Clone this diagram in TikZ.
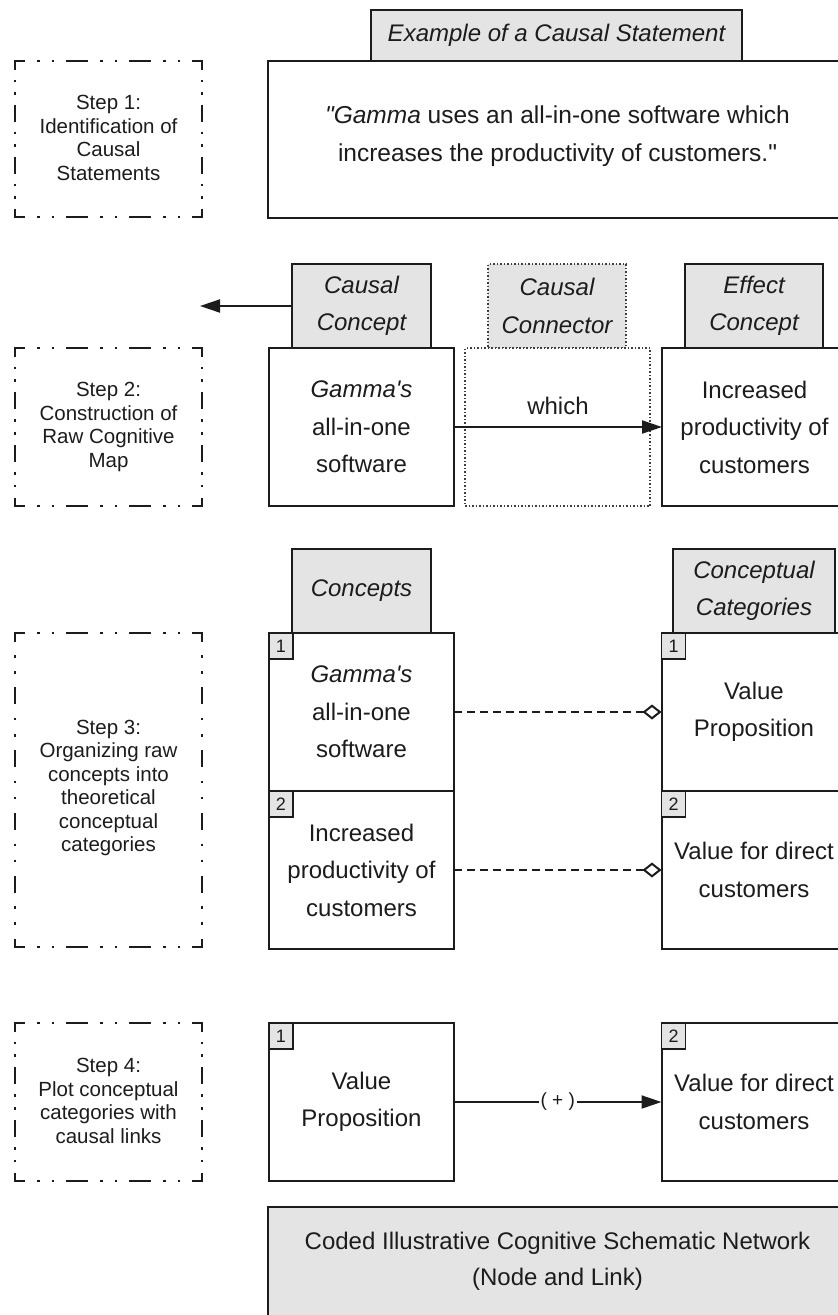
\documentclass[tikz,border=0pt]{standalone}
\usepackage{fontspec}
\newfontfamily\lsans{Liberation Sans}
\usetikzlibrary{arrows.meta}
\definecolor{tabgray}{RGB}{228,228,228}
\definecolor{ink}{RGB}{28,28,28}

\newcommand\dside[5]{% x1 y1 x2 y2 dashlength
  \pgfmathsetmacro\dsL{abs((#3)-(#1))+abs((#4)-(#2))}
  \pgfmathsetmacro\dsN{max(1,round(\dsL/60))}
  \pgfmathsetmacro\dsP{\dsL/\dsN}
  \pgfmathsetmacro\dsG{(\dsP-#5-5)/3}
  \pgfmathsetmacro\dsH{#5/2}
  \draw[stepline, dash pattern=on #5pt off \dsG pt on 2.5pt off \dsG pt on 2.5pt off \dsG pt, dash phase=\dsH pt] (#1,#2) -- (#3,#4);
}
\newcommand\stepframe[4]{% x1 y1 x2 y2
  \dside{#1-1}{#2}{#3+1}{#2}{22}
  \dside{#1-1}{#4}{#3+1}{#4}{22}
  \dside{#1}{#2}{#1}{#4}{17}
  \dside{#3}{#2}{#3}{#4}{17}
}

\tikzset{
  box/.style={draw=ink, line width=2pt, fill=white, align=center, inner sep=0pt,
    text=ink, minimum width=185pt, minimum height=158pt,
    font=\lsans\fontsize{24}{37.5}\selectfont},
  tabbox/.style={box, fill=tabgray, minimum width=139pt, minimum height=84pt,
    font=\lsans\itshape\fontsize{24}{37.5}\selectfont},
  dotbox/.style={line width=1.5pt, dash pattern=on 1.5pt off 2pt},
  tagbox/.style={draw=ink, line width=1.3pt, fill=tabgray, minimum width=24pt,
    minimum height=26pt, inner sep=0pt, anchor=north west, text=ink,
    font=\lsans\fontsize{18}{18}\selectfont},
  steptext/.style={align=center, text=ink, inner sep=0pt,
    font=\lsans\fontsize{20.5}{23.5}\selectfont},
  plaintext/.style={align=center, text=ink, inner sep=0pt,
    font=\lsans\fontsize{24}{36}\selectfont},
  stepline/.style={draw=ink, line width=2pt},
  link/.style={draw=ink, line width=2pt, -{Triangle[length=20pt,width=13pt]}},
  assoc/.style={draw=ink, line width=2pt, dash pattern=on 8pt off 5pt,
    -{Diamond[open,length=19pt,width=15pt]}},
}

\begin{document}
\begin{tikzpicture}[x=1pt,y=-1pt, every node/.style={outer sep=0pt}]
\useasboundingbox (0,0) rectangle (838,1315);
\clip (0,0) rectangle (838,1315);

% ---------- Step 1
\stepframe{15}{61}{202}{217}
\node[steptext] (s1) at (108.5,138) {Step 1:\\Identification of\\Causal\\Statements};
\node[tabbox, minimum width=371pt, minimum height=51pt] (extab) at (556.5,35.5) {Example of a Causal Statement};
\node[box, minimum width=579pt, minimum height=157pt] (stmt) at (557.5,139.5) {};
\node[plaintext, font=\lsans\fontsize{24.5}{37.5}\selectfont] (stmttext) at (557.5,136) {{\itshape "Gamma} uses an all-in-one software which\\increases the productivity of customers."};

% ---------- Step 2
\stepframe{15}{348}{202}{506}
\node[steptext] (s2) at (108.5,427) {Step 2:\\Construction of\\Raw Cognitive\\Map};
\node[tabbox] (cctab) at (361.5,306) {Causal\\Concept};
\node[tabbox, draw=ink!85, dotbox, minimum width=138pt] (cntab) at (557,306) {Causal\\Connector};
\node[tabbox, minimum width=138pt] (eftab) at (754,306) {Effect\\Concept};
\node[box] (c21) at (361.5,427) {{\itshape Gamma's}\\all-in-one\\software};
\node[box, draw=ink!85, dotbox] (c22) at (557.5,427) {};
\node[box] (c23) at (754.5,427) {Increased\\productivity of\\customers};
\coordinate (lefttip) at (200,306);
\draw[link] (cctab.west) -- (lefttip);
\draw[link] (c21.east) -- node[plaintext, above=12pt] {which} (c23.west);

% ---------- Step 3
\stepframe{15}{633}{202}{947}
\node[steptext] (s3) at (108.5,788) {Step 3:\\Organizing raw\\concepts into\\theoretical\\conceptual\\categories};
\node[tabbox] (cotab) at (361.5,591) {Concepts};
\node[tabbox, minimum width=162pt] (catab) at (754,591) {Conceptual\\Categories};
\node[box] (c31) at (361.5,712) {{\itshape Gamma's}\\all-in-one\\software};
\node[box] (c32) at (361.5,870) {Increased\\productivity of\\customers};
\node[box] (k31) at (754,712) {Value\\Proposition};
\node[box] (k32) at (754,870) {Value for direct\\customers};
\node[tagbox] (tc31) at (c31.north west) {1};
\node[tagbox] (tc32) at (c32.north west) {2};
\node[tagbox] (tk31) at (k31.north west) {1};
\node[tagbox] (tk32) at (k32.north west) {2};
\draw[assoc] (c31.east) -- (k31.west);
\draw[assoc] (c32.east) -- (k32.west);

% ---------- Step 4
\stepframe{15}{1023}{202}{1181}
\node[steptext] (s4) at (108.5,1101) {Step 4:\\Plot conceptual\\categories with\\causal links};
\node[box] (n1) at (361.5,1102) {Value\\Proposition};
\node[box] (n2) at (754,1102) {Value for direct\\customers};
\node[tagbox] (tn1) at (n1.north west) {1};
\node[tagbox] (tn2) at (n2.north west) {2};
\draw[link] (n1.east) -- node[fill=white, inner sep=2pt, text=ink, font=\lsans\fontsize{19}{19}\selectfont] {( + )} (n2.west);

% ---------- Result
\node[box, fill=tabgray, minimum width=579pt, minimum height=200pt, anchor=north] (net) at (557.5,1207) {};
\node[plaintext] (nettext) at (557.5,1261) {Coded Illustrative Cognitive Schematic Network\\(Node and Link)};
\end{tikzpicture}
\end{document}
